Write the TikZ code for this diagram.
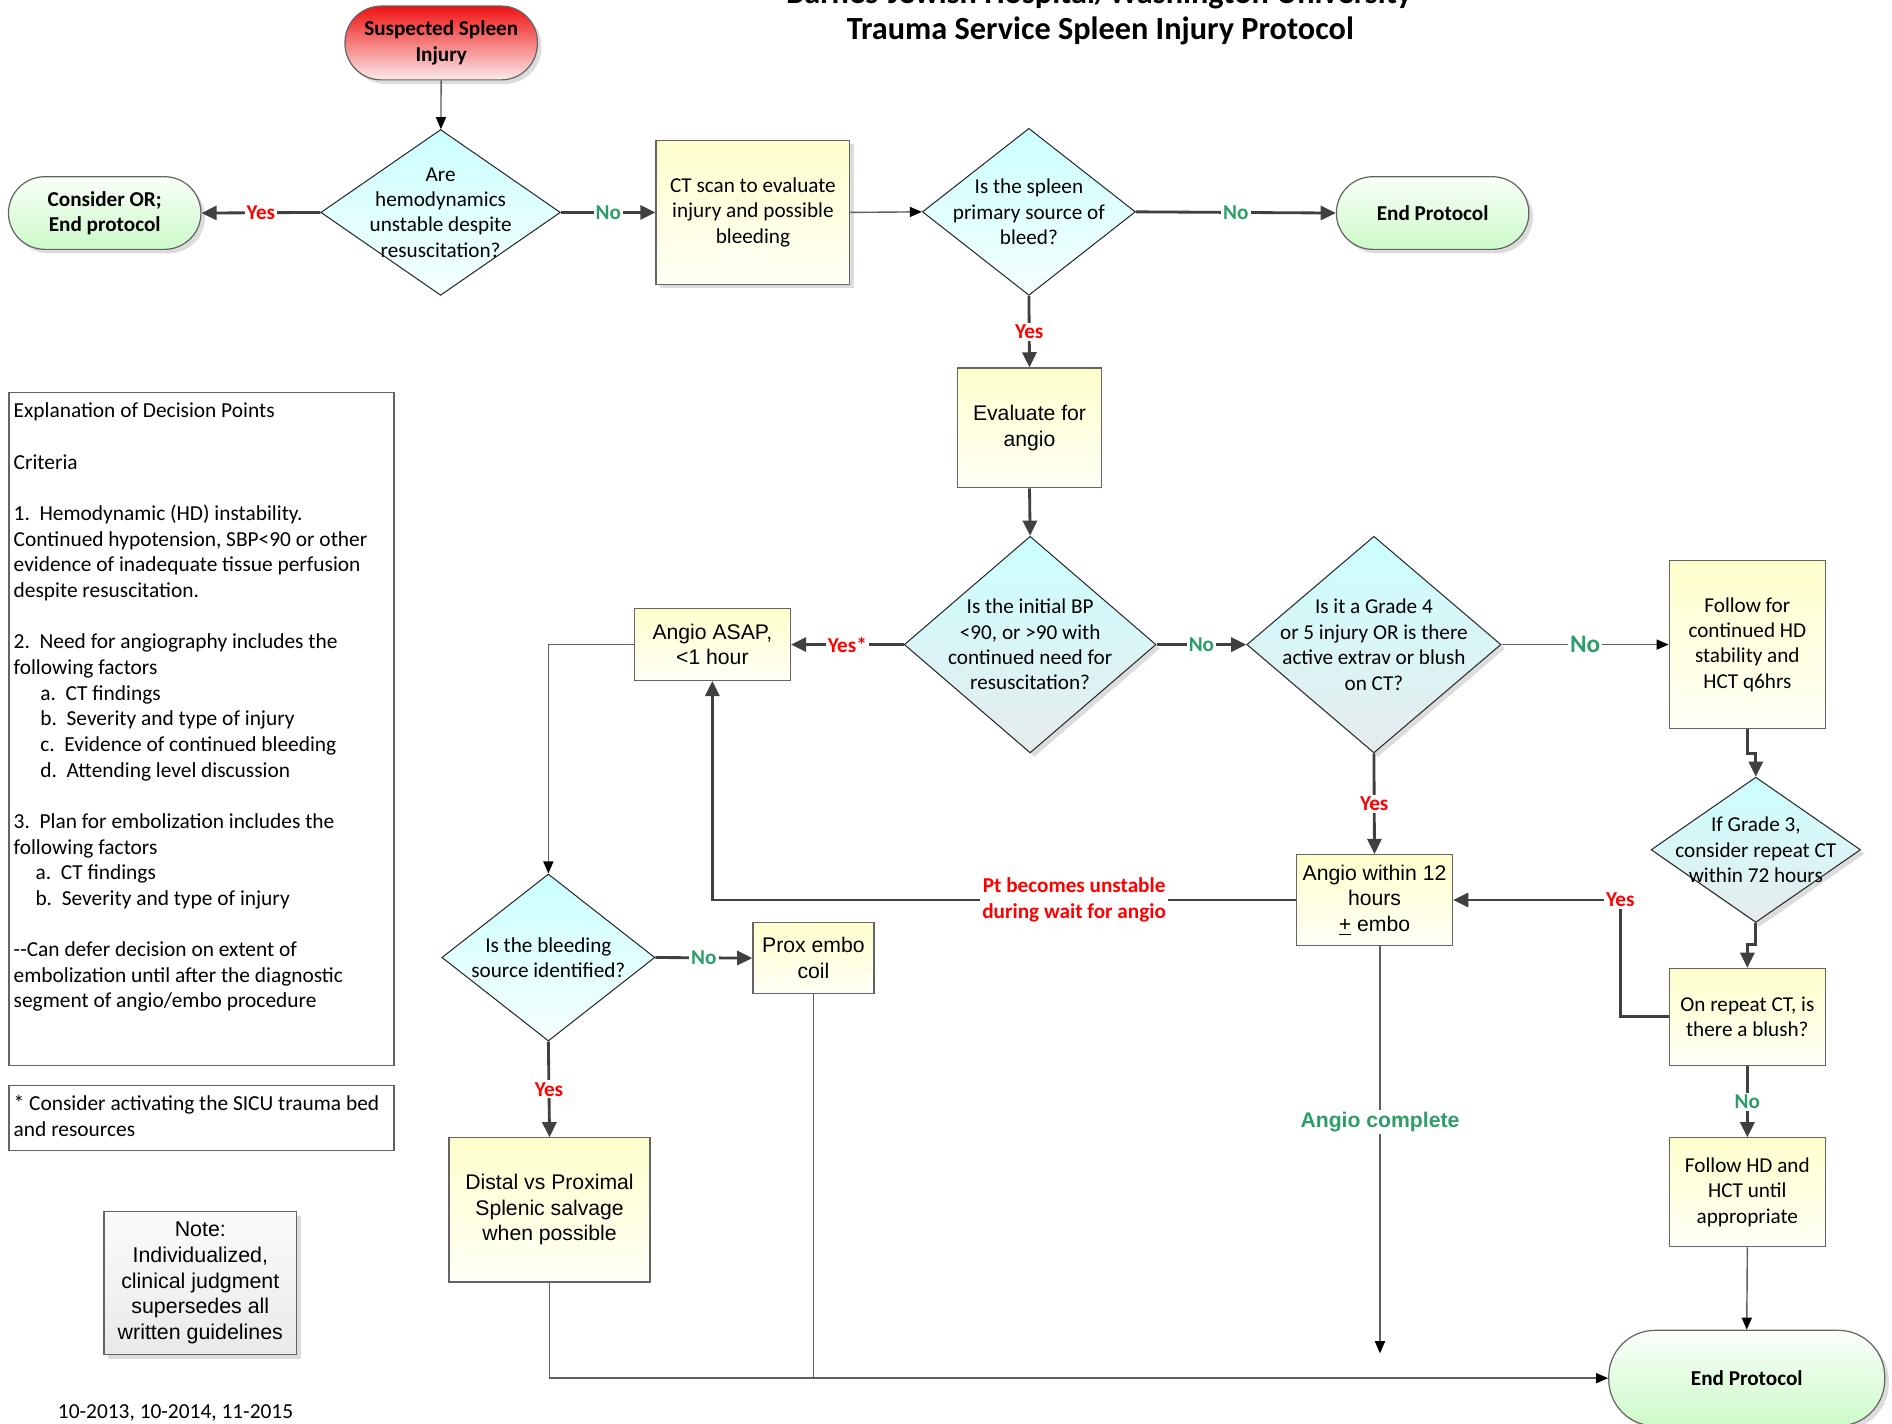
\documentclass[tikz,border=0pt]{standalone}
\usepackage{fontspec}
\setmainfont{Carlito}
\newfontfamily\arial{Liberation Sans}
\usetikzlibrary{shapes.geometric,arrows.meta,shadows,calc}

\definecolor{lnk}{RGB}{64,64,64}
\definecolor{thinl}{RGB}{95,95,95}
\definecolor{bord}{RGB}{100,100,100}
\definecolor{yesred}{RGB}{255,0,0}
\definecolor{nogreen}{RGB}{46,158,104}
\definecolor{cyantop}{RGB}{204,255,255}
\definecolor{cyanbot}{RGB}{245,255,255}
\definecolor{graybot}{RGB}{230,235,237}
\definecolor{yeltop}{RGB}{255,255,204}
\definecolor{yelbot}{RGB}{255,255,246}
\definecolor{grntop}{RGB}{250,255,250}
\definecolor{grnbot}{RGB}{204,250,200}
\definecolor{redtop}{RGB}{240,18,18}
\definecolor{redbot}{RGB}{250,234,234}

\tikzset{
  shad/.style={drop shadow={shadow xshift=2pt,shadow yshift=-2pt,opacity=0.3,fill=black!45}},
  term/.style={rectangle, rounded corners=18pt, draw=bord, line width=0.6pt,
    top color=grntop, bottom color=grnbot, align=center, inner sep=1pt,
    font=\bfseries\fontsize{10.5}{12.6}\selectfont,
    minimum width=95.4pt, minimum height=36pt, shad},
  dia/.style={diamond, draw=black!85, line width=0.5pt, top color=cyantop,
    bottom color=cyanbot, inner sep=0pt},
  dtext/.style={align=center, font=\fontsize{10.5}{12.6}\selectfont, inner sep=0pt},
  pbox/.style={rectangle, draw=bord, line width=0.6pt, top color=yeltop,
    bottom color=yelbot, align=center, inner sep=1pt,
    font=\fontsize{10.5}{12.6}\selectfont},
  abox/.style={pbox, font=\arial\fontsize{10.5}{12.6}\selectfont},
  thk/.style={draw=lnk, line width=1.4pt, -{Triangle[length=7.5pt,width=7pt]}},
  thn/.style={draw=thinl, line width=0.7pt, -{Triangle[length=6pt,width=5pt,color=black]}},
  thnl/.style={draw=thinl, line width=0.7pt},
  yes/.style={fill=white, text=yesred, font=\bfseries\fontsize{10.5}{12.6}\selectfont, inner sep=1pt},
  no/.style={yes, text=nogreen},
  plain/.style={rectangle, draw=bord, line width=0.6pt, inner sep=0pt}
}

\begin{document}
\begin{tikzpicture}[x=0.6pt, y=-0.6pt]
\useasboundingbox (0,0) rectangle (1563,1175.6);
\fill[white] (0,0) rectangle (1563,1175.6);

% title
\node[font=\bfseries\fontsize{16}{19}\selectfont, anchor=base, inner sep=0pt] (title1) at (908,2.5) {Barnes-Jewish Hospital/Washington University};
\node[font=\bfseries\fontsize{16}{19}\selectfont, anchor=base, inner sep=0pt] (title2) at (909,33) {Trauma Service Spleen Injury Protocol};

% terminals
\node[term, top color=redtop, bottom color=redbot, minimum height=36.6pt] (sus) at (364.5,35.5) {Suspected Spleen\\Injury};
\node[term] (cor) at (86.5,176) {Consider OR;\\End protocol};
\node[term] (end1) at (1183.5,176) {End Protocol};
\node[term, rounded corners=23pt, minimum width=136.8pt, minimum height=47.4pt] (end2) at (1443,1138.5) {End Protocol};

% diamonds
\node[dia, minimum width=118.8pt, minimum height=82.2pt,
  label={[dtext]center:{Are\\hemodynamics\\unstable despite\\resuscitation?}}] (d1) at (364,175.5) {};
\node[dia, minimum width=105.6pt, minimum height=82.8pt,
  label={[dtext]center:{Is the spleen\\primary source of\\bleed?}}] (d2) at (850,175) {};
\node[dia, shad, bottom color=graybot, minimum width=124.8pt, minimum height=107.4pt,
  label={[dtext]center:{Is the initial BP\\<90, or >90 with\\continued need for\\resuscitation?}}] (d3) at (851,532.5) {};
\node[dia, shad, bottom color=graybot, minimum width=126pt, minimum height=107.4pt,
  label={[dtext]center:{Is it a Grade 4\\or 5 injury OR is there\\active extrav or blush\\on CT?}}] (d4) at (1135,532.5) {};
\node[dia, shad, bottom color=graybot, minimum width=103.8pt, minimum height=72pt,
  label={[dtext]center:{If Grade 3,\\consider repeat CT\\within 72 hours}}] (d5) at (1450.5,702) {};
\node[dia, minimum width=105.6pt, minimum height=82.8pt,
  label={[dtext]center:{Is the bleeding\\source identified?}}] (d6) at (453,791) {};

% process boxes
\node[pbox, shad, minimum width=96pt, minimum height=71.4pt] (ct) at (622,175.5) {CT scan to evaluate\\injury and possible\\bleeding};
\node[abox, minimum width=71.4pt, minimum height=59.4pt] (eval) at (850.5,353.5) {Evaluate for\\angio};
\node[abox, minimum width=77.4pt, minimum height=35.4pt] (asap) at (588.5,532.5) {Angio ASAP,\\<1 hour};
\node[pbox, minimum width=77.4pt, minimum height=83.4pt] (follow) at (1443.5,532.5) {Follow for\\continued HD\\stability and\\HCT q6hrs};
\node[pbox, minimum width=77.4pt, minimum height=48pt] (rep) at (1443.5,840) {On repeat CT, is\\there a blush?};
\node[pbox, minimum width=77.4pt, minimum height=54pt] (fhd) at (1443.5,985) {Follow HD and\\HCT until\\appropriate};
\node[abox, minimum width=77.4pt, minimum height=45pt] (a12) at (1135.5,743.5) {Angio within 12\\hours\\\underline{+} embo};
\node[abox, minimum width=60pt, minimum height=35.4pt] (prox) at (672,791.5) {Prox embo\\coil};
\node[abox, minimum width=99.6pt, minimum height=71.4pt] (distal) at (454,999.5) {Distal vs Proximal\\Splenic salvage\\when possible};

% explanation boxes
\node[plain, anchor=north west, minimum width=190.8pt, minimum height=333.6pt] (expl) at (7,324) {};
\node[anchor=north west, inner sep=0pt, align=left, font=\fontsize{10.6}{12.72}\selectfont] (expltext) at (11,332.5) {Explanation of Decision Points\\[12.72pt]
Criteria\\[12.72pt]
1.\ \ Hemodynamic (HD) instability.\\
Continued hypotension, SBP<90 or other\\
evidence of inadequate tissue perfusion\\
despite resuscitation.\\[12.72pt]
2.\ \ Need for angiography includes the\\
following factors\\
\hspace*{13.2pt}a.\ \ CT findings\\
\hspace*{13.2pt}b.\ \ Severity and type of injury\\
\hspace*{13.2pt}c.\ \ Evidence of continued bleeding\\
\hspace*{13.2pt}d.\ \ Attending level discussion\\[12.72pt]
3.\ \ Plan for embolization includes the\\
following factors\\
\hspace*{10.8pt}a.\ \ CT findings\\
\hspace*{10.8pt}b.\ \ Severity and type of injury\\[12.72pt]
-{}-Can defer decision on extent of\\
embolization until after the diagnostic\\
segment of angio/embo procedure};
\node[plain, anchor=north west, minimum width=190.8pt, minimum height=32.4pt] (foot) at (7,896) {};
\node[anchor=north west, inner sep=0pt, align=left, font=\fontsize{10.6}{12.72}\selectfont] (foottext) at (11,904.5) {* Consider activating the SICU trauma bed\\and resources};

\node[plain, shad, top color=gray!3, bottom color=gray!17, minimum width=95.4pt, minimum height=70.8pt,
  align=center, font=\arial\fontsize{10.6}{12.72}\selectfont] (note) at (165.5,1060) {Note:\\Individualized,\\clinical judgment\\supersedes all\\written guidelines};

\node[anchor=base, inner sep=0pt, font=\fontsize{10.6}{12.72}\selectfont] (date) at (145,1171.5) {10-2013, 10-2014, 11-2015};

% connectors
\draw[thn] (sus) -- (d1);
\draw[thk] (d1.west) -- node[yes]{Yes} (cor.east);
\draw[thk] (d1.east) -- node[no]{No} (ct.west);
\draw[thn] (ct.east) -- (d2.west);
\draw[thk] (d2.east) -- node[no]{No} (end1.west);
\draw[thk] (d2.south) -- node[yes]{Yes} (eval.north);
\draw[thk] (eval.south) -- (d3.north);
\draw[thk] (d3.west) -- node[yes]{Yes*} (asap.east);
\draw[thk] (d3.east) -- node[no]{No} (d4.west);
\draw[thn] (d4.east) -- node[no, font=\bfseries\fontsize{12.5}{14}\selectfont]{No} (follow.west);
\draw[thk] (follow.south) -- ++(0,20) -| (d5.north);
\draw[thk] (d5.south) -- ++(0,18) -| (rep.north);
\draw[thk] (rep.west) -- ++(-40,0) |- node[yes]{Yes} (a12.east);
\draw[thk] (d4.south) -- node[yes]{Yes} (a12.north);
\draw[thk] (rep.south) -- node[no]{No} (fhd.north);
\draw[thn] (fhd.south) -- (end2.north);
\draw[thk] (a12.west) -- node[pos=0.38, yes, align=center]{Pt becomes unstable\\during wait for angio} (asap.south |- a12.west) -- (asap.south);
\coordinate (acend) at (1140,1118);
\draw[thn] (acend |- a12.south) -- node[pos=0.433, fill=white, text=nogreen, inner sep=1pt, font=\arial\bfseries\fontsize{10.5}{12.6}\selectfont]{Angio complete} (acend);
\draw[thn] (asap.west) -| (d6.north);
\draw[thk] (d6.east) -- node[no]{No} (prox.west);
\draw[thk] (d6.south) -- node[yes]{Yes} (distal.north);
\draw[thn] (distal.south) |- (end2.west);
\draw[thnl] (prox.south) -- (prox.south |- end2.west);
\end{tikzpicture}
\end{document}
